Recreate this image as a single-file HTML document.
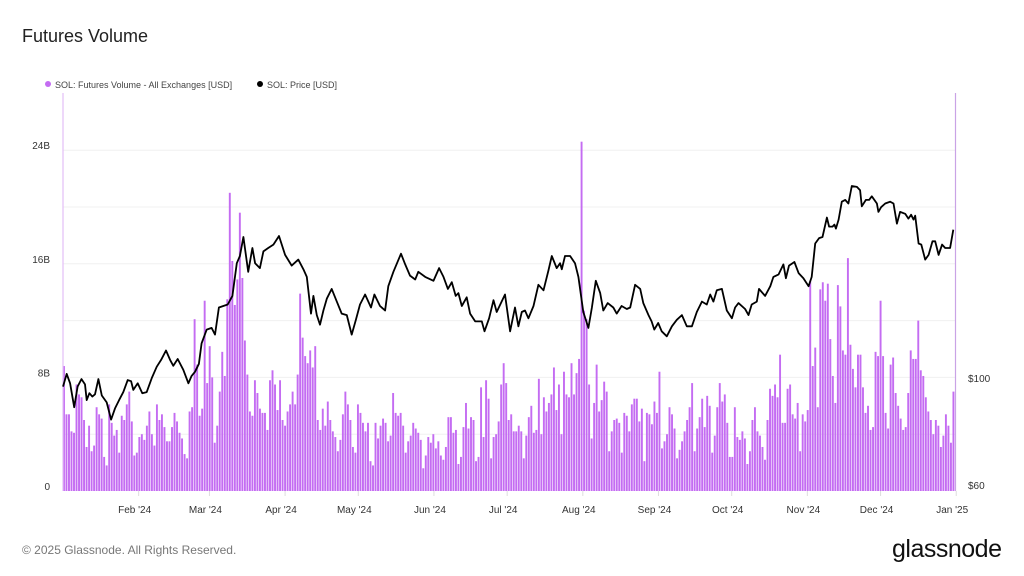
<!DOCTYPE html>
<html><head><meta charset="utf-8"><style>
body{margin:0;background:#fff;font-family:"Liberation Sans",sans-serif}
#wrap{position:relative;width:1024px;height:576px;overflow:hidden}
.t{position:absolute;white-space:nowrap}
</style></head><body>
<div id="wrap">
<div class="t" style="left:22px;top:26px;font-size:18px;color:#222">Futures Volume</div>
<div class="t" style="left:45px;top:80px;font-size:9px;color:#444"><span style="display:inline-block;width:6px;height:6px;border-radius:3px;background:#c46cf2;margin-right:4px;vertical-align:1px"></span>SOL: Futures Volume - All Exchanges [USD]</div>
<div class="t" style="left:257px;top:80px;font-size:9px;color:#444"><span style="display:inline-block;width:6px;height:6px;border-radius:3px;background:#000;margin-right:4px;vertical-align:1px"></span>SOL: Price [USD]</div>
<div class="t" style="left:22px;top:543px;font-size:12px;color:#777">© 2025 Glassnode. All Rights Reserved.</div>
<div class="t" style="left:892px;top:535px;font-size:25px;color:#111;letter-spacing:-0.5px">glassnode</div>
<svg id="svg" width="1024" height="576" style="position:absolute;left:0;top:0"></svg>
</div>
<script>
const volume=[8.8,5.4,5.4,4.2,4.1,7.5,6.8,6.6,5.0,3.1,4.6,2.8,3.2,5.9,5.4,5.1,2.4,1.8,6.1,4.8,3.9,4.3,2.7,5.3,5.0,6.1,7.0,4.9,2.5,2.7,3.8,4.0,3.6,4.6,5.6,4.0,3.2,6.1,5.0,5.4,4.5,3.5,3.5,4.5,5.5,4.9,4.1,3.7,2.6,2.3,5.6,5.9,12.1,8.9,5.3,5.8,13.4,7.6,10.2,8.0,3.4,4.6,7.0,9.8,8.1,13.5,21.0,16.2,13.1,14.9,19.6,15.0,10.6,8.2,5.6,5.3,7.8,6.9,5.8,5.5,5.5,4.3,7.8,8.5,7.5,5.7,7.8,5.0,
4.6,5.6,6.1,7.0,6.1,8.2,13.9,10.8,9.5,9.0,9.9,8.7,10.2,5.0,4.3,5.8,4.6,6.3,5.0,4.2,3.8,2.8,3.6,5.4,7.0,6.1,5.0,3.1,2.7,6.1,5.5,4.8,4.2,4.8,2.1,1.8,4.8,3.7,4.6,5.1,4.8,3.5,3.9,6.9,5.5,5.3,5.5,4.6,2.7,3.5,3.9,4.8,4.4,4.1,3.6,1.6,2.5,3.8,3.4,4.0,3.0,3.5,2.5,2.2,3.1,5.2,5.2,4.1,4.3,1.9,2.4,4.5,6.2,4.4,5.2,5.0,2.1,2.4,7.3,3.8,7.8,6.5,2.3,3.8,4.0,4.9,7.5,9.0,7.6,5.0,5.4,4.2,
4.2,4.6,4.2,2.3,3.9,5.2,6.0,4.1,4.3,7.9,4.0,6.6,5.6,6.2,6.8,8.7,5.7,7.5,4.0,8.4,6.8,6.6,9.0,6.8,8.3,9.3,24.6,12.7,12.1,7.5,3.7,6.2,8.9,5.6,6.4,7.7,7.0,2.8,4.2,5.0,5.1,4.8,2.7,5.5,5.3,4.2,6.1,6.5,6.5,4.9,5.8,2.1,5.5,5.4,4.7,6.3,5.5,8.4,3.0,3.5,4.0,5.9,5.4,4.4,2.3,2.9,3.5,4.2,5.0,5.9,7.6,2.8,4.4,5.2,6.5,4.5,6.7,6.0,2.7,3.9,5.9,7.6,6.3,6.8,4.8,2.4,2.4,5.9,3.8,3.6,4.2,3.7,1.9,
2.8,5.0,5.9,4.2,3.9,3.1,2.2,5.0,7.2,6.7,7.5,6.6,9.6,4.8,4.8,7.2,7.5,5.4,5.1,6.2,2.8,5.4,4.9,5.7,14.8,8.8,10.1,5.9,14.2,14.7,13.4,14.6,10.7,8.1,6.2,14.5,13.0,9.9,9.6,16.4,10.3,8.6,7.3,9.6,9.6,7.3,5.5,6.0,4.3,4.5,9.8,9.5,13.4,9.5,5.5,4.4,8.9,9.4,6.9,6.0,5.1,4.3,4.5,6.9,9.9,9.3,9.3,12.0,8.5,8.1,6.6,5.6,5.0,4.0,5.0,4.6,3.1,3.9,5.4,4.6,3.4,7.0];
const priceDays=[0,1.5,2.9,4.6,6,7.6,9,9.7,10.8,12,13.1,14.5,15.9,17.9,19.7,21.3,23,24.7,26.5,27.9,28.8,30.6,32.5,34.3,36.4,38.4,40.2,42.2,43.9,45.2,47,49.3,51.4,52.7,54.1,55.7,56.8,58.9,60.9,62.3,63.9,65.7,67.5,69.4,71.2,72.5,73.9,75.9,77.6,78.7,80.7,82.1,84.1,86.2,88.5,91,93.7,96.4,98.5,99.9,101.6,102.6,104,105.3,106.7,108.1,110.1,112.2,114.2,116.3,118.3,120,121.7,123.8,126.2,127.6,129.9,132,133.3,135.4,138.5,140.2,142.2,144.3,145.6,148.4,151.8,154.1,155.9,157.7,159.3,160.9,162,163.4,165.4,166.8,168.9,171.6,172.7,174.6,176.4,177.7,181.1,183.2,185.2,186.6,188,189.3,190.7,192.8,194.8,196.9,198.9,200.3,202.3,203.7,204.4,205.7,207.8,209.8,211.2,213.2,215.3,216.7,218.3,220.1,221.4,223.2,225.5,226.9,228.9,231,232.4,234.4,236.5,237.8,239.9,241.2,242.3,243.9,245.3,247.4,249.5,251.5,253.6,255.6,257.7,259.7,261.8,263.8,265.2,266.5,267.9,270,272,274.1,275.4,276.8,279.5,280.9,282.2,284.3,285.2,287.7,289.8,291.1,293.2,295.2,296.2,297.5,299.7,301.4,303.4,305.5,306.8,308.2,309.8,311.2,313,313.9,315.3,316.1,316.7,317.8,319.1,320.5,321.8,323.2,325.3,326.6,327.3,329,330.3,331.4,333.5,334.1,335.2,336.9,338.9,340.3,341.7,343,345.1,346.4,347.5,348.5,349.2,350.6,351.7,353.3,354.7,356.3,357.4,358.8,360.2,361.5,363.5,364.8];
const prices=[96,102,97.5,87,96,99.5,97,90,93,91.5,92.5,99.5,92,89,82,86.5,90,93.5,99,98.5,94.5,97.5,93,93.5,100,105.5,109,114,109,106,109.5,104,97.5,101,103,107,118,126,127,123,140,141,142,148,173,179,196,166,186,173,169,183,186,189,197,180,171,176,168,162,136,148,135,129,138,146,153,144,136,135,123,132,142,149,140,149,141,138,155,166,181,172,163,160,166,162,159,169,162,153,158,148,150,141,147,136,131,131,125,133,145,137,149,125,140,128,137,138,133,141,156,152,167,179,169,173,168,179,179,173,162,137,127,140,159,150,138,143,140,136,141,139,140,156,153,143,135,131,126,130,125,122,128,132,135,128,128,137,144,142,149,144,152,153,138,133,140,143,139,135,142,144,153,148,155,162,164,172,161,171,174,165,161,155,162,190,195,196,215,206,206,208,204,213,232,234,230,250,249,245,227,234,234,238,230,221,226,230,232,230,209,221,219,214,218,213,217,190,189,176,180,192,192,180,189,186,186,203];
const volTicks=[0,8,16,24];
const volTickLabels=["0","8B","16B","24B"];
const priceTicks=[60,100];
const priceTickLabels=["$60","$100"];
const months=["Feb '24","Mar '24","Apr '24","May '24","Jun '24","Jul '24","Aug '24","Sep '24","Oct '24","Nov '24","Dec '24","Jan '25"];
const monthDays=[31,60,91,121,152,182,213,244,274,305,335,366];

const X0=63,X1=955,Y0=491;
const xDay=d=>X0+d*(X1-X0)/365.5;
const yVol=v=>Y0-v*14.2;
const yPrice=p=>378-209.5*Math.log(p/100);
const svg=document.getElementById('svg');
const NS='http://www.w3.org/2000/svg';
function mk(tag,attrs){const e=document.createElementNS(NS,tag);for(const k in attrs)e.setAttribute(k,attrs[k]);svg.appendChild(e);return e;}

for(let v=4;v<=24;v+=4){const g=mk('line',{x1:X0,x2:X1,y1:yVol(v),y2:yVol(v),stroke:'#f0f0f0','stroke-width':1});

}
volTicks.forEach((v,i)=>{const t=mk('text',{x:50,y:yVol(v)-1,'text-anchor':'end','font-size':10,fill:'#333','font-family':'Liberation Sans'});t.textContent=volTickLabels[i];

});
priceTicks.forEach((p,i)=>{const t=mk('text',{x:968,y:yPrice(p)+4,'font-size':10,fill:'#333','font-family':'Liberation Sans'});t.textContent=priceTickLabels[i];

});
months.forEach((m,i)=>{const x=xDay(monthDays[i]);
const tk=mk('line',{x1:x,x2:x,y1:Y0,y2:Y0+5,stroke:'#ddd'});


const t=mk('text',{x:x-4,y:513,'text-anchor':'middle','font-size':10,fill:'#333','font-family':'Liberation Sans'});t.textContent=m;

});
const N=volume.length,step=(X1-X0)/N;
volume.forEach((v,i)=>{const y=yVol(v);const b=mk('rect',{x:X0+i*step,y:y,width:Math.max(step-0.6,1),height:Y0-y,fill:'#c46cf2'});

});
const l1=mk('line',{x1:X0,x2:X0,y1:93,y2:Y0,stroke:'#e3bdf7','stroke-width':1.2});


const l2=mk('line',{x1:X1+0.5,x2:X1+0.5,y1:93,y2:Y0,stroke:'#c9a3e6','stroke-width':1.2});


const pts=prices.map((p,i)=>xDay(priceDays[i]).toFixed(1)+','+yPrice(p).toFixed(1)).join(' ');
const pl=mk('polyline',{points:pts,fill:'none',stroke:'#000','stroke-width':1.8,'stroke-linejoin':'round'});


</script>
</body></html>
